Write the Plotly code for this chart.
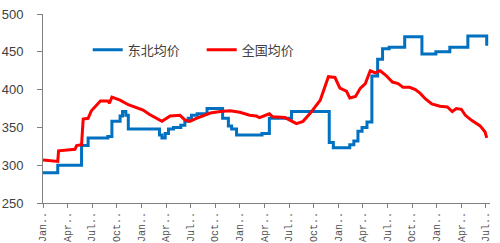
import plotly.graph_objects as go

# month index from first Jan tick (0) to last Jul tick (54)
ne_month = [0, 1.8, 4.7, 5.5, 7.9, 8.4, 9.4, 9.7, 10.1, 10.4, 14.2, 14.5, 14.9, 15.3, 15.9,
            16.8, 17.3, 17.7, 18.1, 18.8, 20.0, 21.9, 22.6, 23.0, 23.6, 26.7, 27.6, 30.3,
            34.9, 35.4, 37.4, 37.9, 38.4, 38.9, 39.5, 40.1, 40.8, 41.4, 42.2, 44.1, 46.2,
            47.9, 49.6, 51.8, 54.0, 54.1]
ne_price = [290, 300, 326, 336, 338, 358, 365, 371, 366, 348, 340, 336, 342, 348, 350,
            353, 358, 362, 366, 368, 375, 362, 352, 348, 340, 342, 362, 371,
            330, 323, 327, 332, 345, 350, 357, 418, 440, 454, 456, 470, 447,
            450, 456, 471, 471, 458]

cn_month = [0, 1.2, 1.8, 1.9, 3.0, 3.9, 4.1, 4.7, 4.9, 5.5, 5.9, 6.4, 7.0, 7.9, 8.1, 8.4,
            9.4, 10.4, 11.2, 12.2, 13.0, 13.9, 14.5, 15.5, 16.7, 17.3, 17.9, 18.7, 19.4,
            20.4, 21.6, 22.8, 24.0, 25.2, 26.0, 26.4, 27.6, 28.0, 29.5, 30.1, 30.9, 31.7,
            32.6, 33.8, 34.4, 34.8, 35.6, 36.2, 37.0, 37.4, 38.1, 38.7, 39.3, 39.9, 40.5,
            41.1, 41.8, 42.6, 43.3, 43.9, 44.7, 45.4, 46.0, 46.6, 47.4, 48.4, 49.3, 49.9,
            50.4, 51.0, 51.5, 52.3, 53.3, 53.9, 54.1]
cn_price = [307, 306, 305, 319, 320, 321, 326, 327, 361, 362, 372, 378, 385, 385, 382, 390,
            386, 380, 377, 373, 367, 362, 358, 365, 366, 360, 358, 362, 365,
            369, 371, 372, 370, 366, 365, 363, 368, 364, 363, 360, 355, 358,
            369, 386, 404, 417, 416, 402, 398, 389, 391, 402, 408, 425, 422,
            425, 419, 410, 408, 403, 403, 400, 395, 388, 381, 378, 377, 371,
            375, 374, 366, 359, 352, 344, 336]

tick_vals = list(range(0, 55, 3))
tick_text = [["Jan..", "Apr..", "Jul..", "Oct.."][i % 4] for i in range(len(tick_vals))]
y_ticks = [250, 300, 350, 400, 450, 500]

fig = go.Figure()
fig.add_trace(go.Scatter(x=ne_month, y=ne_price, mode="lines", name="东北均价",
                         line=dict(color="#0070C0", width=3, shape="hv")))
fig.add_trace(go.Scatter(x=cn_month, y=cn_price, mode="lines", name="全国均价",
                         line=dict(color="#FF0000", width=3)))

fig.update_layout(
    width=500, height=243,
    margin=dict(l=43, r=10, t=14, b=40),
    paper_bgcolor="white", plot_bgcolor="white",
    showlegend=True,
    legend=dict(orientation="h", x=0.1, y=0.81, xanchor="left", yanchor="middle",
                font=dict(family="Noto Sans CJK SC", size=13, color="#404040"),
                bgcolor="rgba(0,0,0,0)", entrywidth=69, entrywidthmode="pixels"),
    font=dict(family="Liberation Sans", color="#404040"),
)
fig.update_xaxes(range=[0, 54.5], tickmode="array", tickvals=tick_vals, ticktext=tick_text,
                 tickangle=-90, ticks="outside", ticklen=4, tickcolor="#808080",
                 showline=True, linecolor="#808080", linewidth=1, showgrid=False, zeroline=False,
                 automargin=False,
                 tickfont=dict(family="Liberation Mono", size=10, color="#505050"))
fig.update_yaxes(range=[250, 500], tickmode="array", tickvals=y_ticks,
                 ticks="outside", ticklen=5, tickcolor="#808080", ticklabelstandoff=11,
                 showline=True, linecolor="#808080", linewidth=1, showgrid=False, zeroline=False,
                 automargin=False,
                 tickfont=dict(family="Liberation Sans", size=13, color="#404040"))

fig.write_html("out.html")
